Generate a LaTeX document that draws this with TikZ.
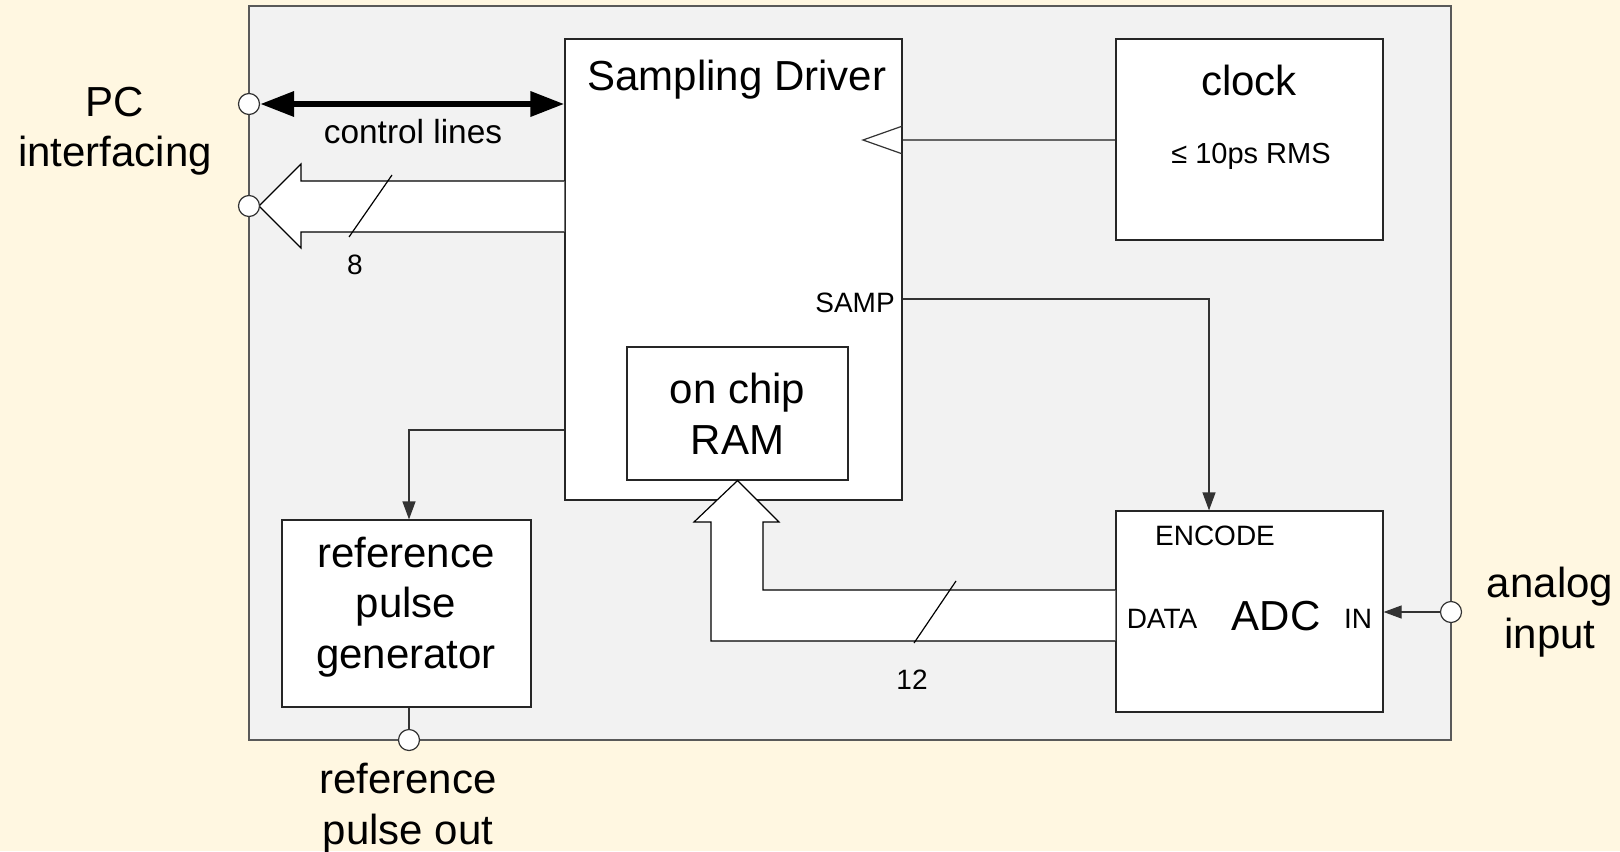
\documentclass[tikz,border=0pt]{standalone}
\usepackage{fontspec}
\setmainfont{Liberation Sans}
\usepackage{tikz}
\usetikzlibrary{arrows.meta, positioning, fit}
\definecolor{cream}{HTML}{FFF7E1}
\definecolor{panel}{HTML}{F2F2F2}

\begin{document}
\begin{tikzpicture}[
    x=0.5pt, y=-0.5pt,
    blk/.style={draw=black!85, fill=white, line width=0.6pt, inner sep=0pt},
    port/.style={circle, draw=black!80, fill=white, line width=0.6pt, minimum size=10.5pt, inner sep=0pt},
    wire/.style={line width=0.6pt, draw=black!80},
    sig/.style={wire, -{Triangle[length=9pt, width=6.5pt]}},
    bus/.style={fill=white, draw=black, line width=0.6pt, line join=miter},
    ctl/.style={line width=3.2pt, {Triangle[length=17pt, width=12pt]}-{Triangle[length=17pt, width=12pt]}},
    big/.style={font=\fontsize{21}{25.3}\selectfont, align=center},
    mid/.style={font=\fontsize{16.7}{20}\selectfont},
    small/.style={font=\fontsize{14}{16}\selectfont}
]
    \useasboundingbox[fill=cream] (0,0) rectangle (1620,851);

    % Boxes
    \node[blk, fill=panel, draw=black!65, fit={(249,6) (1451,740)}] (board) {};
    \node[blk, fit={(565,39) (902,500)}] (drv) {};
    \node[blk, fit={(1116,39) (1383,240)}] (clk) {};
    \node[blk, fit={(627,347) (848,480)}] (ram) {};
    \node[blk, fit={(282,520) (531,707)}] (refgen) {};
    \node[blk, fit={(1116,511) (1383,712)}] (adc) {};

    % Texts
    \node[big] at (737,80) {Sampling Driver};
    \node[big] at (1249,80) {clock};
    \node[small, font=\fontsize{14.5}{16}\selectfont] at (1251,156) {≤\;10ps RMS};
    \node[big] at (ram) {on chip\\RAM};
    \node[big] at (406,607) {reference\\pulse\\generator};
    \node[small] at (855,303) {SAMP};
    \node[small] at (1215,536) {ENCODE};
    \node[small] at (1162,619) {DATA};
    \node[big] at (1276,616) {ADC};
    \node[small] at (1358,619) {IN};
    \node[big] at (115,131) {PC\\interfacing};
    \node[big] at (1550,612) {analog\\input};
    \node[big] at (408,808) {reference\\pulse out};

    % Buses
    \draw[bus] (drv.west |- 0,181) -- (301,181) -- (301,164) -- (259,206)
        -- (301,248) -- (301,232) -- (drv.west |- 0,232);
    \draw[wire, draw=black] (392,175) -- (349,237);
    \node[small] at (355,265) {8};
    \draw[bus] (adc.west |- 0,590) -- (763,590) -- (763,522) -- (779,522)
        -- (ram.south) -- (694,522) -- (711,522) -- (711,641) -- (adc.west |- 0,641);
    \draw[wire, draw=black] (956,581) -- (914,643);
    \node[small] at (912,680) {12};

    % Ports
    \node[port] (pcctl) at (249,104) {};
    \node[port] (pcdata) at (249,206) {};
    \node[port] (refout) at (409,740) {};
    \node[port] (ain) at (1451,612) {};

    % Arrows
    \draw[ctl] (pcctl.east) -- (drv.west |- pcctl);
    \node[mid] at (413,132) {control lines};
    \draw[wire, draw=black!60] (clk.west |- 0,140) -- (drv.east |- 0,140);
    \draw[wire] (drv.east |- 0,126) -- (863,140) -- (drv.east |- 0,154);
    \draw[sig] (drv.east |- 0,299) -| (adc.north -| 1209,0);
    \draw[sig] (drv.west |- 0,430) -| (refgen.north -| 409,0);
    \draw[wire] (refgen.south -| 409,0) -- (refout.north);
    \draw[sig] (ain.west) -- (adc.east |- ain);
\end{tikzpicture}
\end{document}
